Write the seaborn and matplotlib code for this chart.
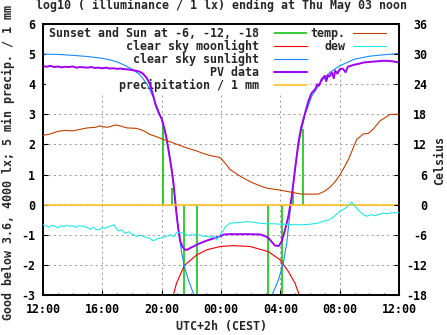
import matplotlib
matplotlib.use("Agg")
import matplotlib.pyplot as plt
import seaborn as sns

# ---------------- data (hours after 12:00 noon of the previous day) ----------------
title = "log10 ( illuminance / 1 lx) ending at Thu May 03 noon"
xlabel = "UTC+2h (CEST)"
ylabel_left = "Good below 3.6, 4000 lx; 5 min precip. / 1 mm"
ylabel_right = "Celsius"
xtick_pos = [0, 4, 8, 12, 16, 20, 24]
xtick_labels = ["12:00", "16:00", "20:00", "00:00", "04:00", "08:00", "12:00"]
ytick_left = [-3, -2, -1, 0, 1, 2, 3, 4, 5, 6]
ytick_right = [-18, -12, -6, 0, 6, 12, 18, 24, 30, 36]

# sunset and sun at -6, -12, -18 markers
sun_hours = [8.10, 8.72, 9.53, 10.40, 15.19, 16.14, 16.88, 17.51]
sun_top = [2.75, 0.55, 0.0, 0.0, 0.0, 0.0, 0.45, 2.50]
sun_bottom = [0.0, 0.0, -3.0, -3.0, -3.0, -3.0, 0.0, 0.0]

# clear sky moonlight
moon_h = [8.62, 8.79, 9.00, 9.25, 9.53, 10.36, 11.04, 11.94, 12.84, 13.97, 15.19, 15.98, 16.54, 16.99, 17.28, 17.42]
moon_v = [-3.40, -3.00, -2.61, -2.33, -2.02, -1.67, -1.50, -1.39, -1.36, -1.39, -1.56, -1.83, -2.22, -2.61, -3.00, -3.40]

# clear sky sunlight
sun_h = [0, 1, 2, 3, 4, 4.5, 5, 5.5, 6, 6.5, 7.0, 7.44, 7.8, 8.0, 8.34, 8.5, 8.68, 8.9, 9.12, 9.35,
         9.53, 9.8, 10.13, 10.5, 15.1, 15.42, 15.87, 16.2, 16.43, 16.65, 16.88, 17.1, 17.33, 17.67,
         18.12, 18.79, 19.35, 20.0, 21.0, 22.0, 23.0, 24.0]
sun_v = [5.00, 4.99, 4.96, 4.92, 4.86, 4.81, 4.74, 4.63, 4.50, 4.33, 4.02, 3.56, 3.10, 2.83, 2.17, 1.70,
         1.11, 0.17, -0.83, -1.60, -2.05, -2.50, -2.94, -3.50, -3.50, -3.03, -2.50, -1.94, -1.28, -0.28,
         0.72, 1.61, 2.28, 3.00, 3.61, 4.11, 4.40, 4.61, 4.83, 4.93, 4.98, 5.02]

# PV data
pv_h = [0.0, 0.25, 0.5, 0.75, 1.0, 1.25, 1.5, 1.75, 2.0, 2.25, 2.5, 2.75, 3.0, 3.25, 3.5, 3.75, 4.0,
        4.25, 4.5, 4.75, 5.0, 5.25, 5.5, 5.75, 6.0, 6.25, 6.5, 6.75, 7.0, 7.2, 7.44, 7.6, 7.8, 8.0,
        8.2, 8.34, 8.5, 8.68, 8.8, 8.9, 9.0, 9.12, 9.25, 9.4, 9.6, 9.7, 10.0, 10.5, 11.0, 11.5,
        11.94, 12.2, 12.6, 13.5, 14.0, 14.65, 15.0, 15.2, 15.45, 15.64, 15.9, 16.09, 16.32, 16.54,
        16.77, 16.99, 17.22, 17.4, 17.55, 17.89, 18.1, 18.34, 18.5, 18.6, 18.79, 19.0, 19.1, 19.2,
        19.3, 19.47, 19.6, 19.7, 19.85, 20.0, 20.2, 20.4, 20.55, 20.8, 21.0, 21.3, 21.6, 22.0, 22.5,
        23.0, 23.4, 23.7, 24.0]
pv_v = [4.60, 4.58, 4.61, 4.57, 4.59, 4.56, 4.58, 4.57, 4.59, 4.55, 4.57, 4.56, 4.55, 4.57, 4.54,
        4.55, 4.53, 4.55, 4.52, 4.53, 4.51, 4.52, 4.50, 4.49, 4.47, 4.45, 4.42, 4.35, 4.20, 4.02,
        3.60, 3.30, 3.05, 2.85, 2.50, 2.17, 1.70, 1.15, 0.70, 0.20, -0.30, -0.80, -1.20, -1.40,
        -1.50, -1.50, -1.42, -1.30, -1.20, -1.12, -1.05, -0.99, -0.98, -0.98, -0.98, -0.99, -1.05,
        -1.11, -1.25, -1.36, -1.37, -1.22, -0.83, -0.39, 0.28, 1.17, 2.06, 2.55, 2.83, 3.44, 3.70,
        3.83, 4.00, 3.95, 4.17, 4.28, 4.10, 4.30, 4.25, 4.39, 4.20, 4.45, 4.35, 4.50, 4.52, 4.40,
        4.58, 4.62, 4.65, 4.68, 4.72, 4.74, 4.76, 4.78, 4.77, 4.75, 4.72]

# precipitation / 1 mm
precip_h = [0, 24]
precip_v = [0.0, 0.0]

# temperature (Celsius)
temp_h = [0, 0.5, 1.0, 1.5, 2.0, 2.5, 3.0, 3.5, 3.84, 4.3, 4.6, 4.86, 5.2, 5.64, 6.32, 6.8, 7.2, 7.7,
          8.1, 8.6, 9.24, 9.8, 10.36, 10.8, 11.26, 11.94, 12.3, 12.61, 13.28, 13.7, 14.18, 14.6, 15.08,
          15.5, 15.98, 16.7, 17.44, 18.56, 19.0, 19.35, 19.7, 20.03, 20.3, 20.59, 20.9, 21.15, 21.6,
          21.94, 22.3, 22.72, 23.1, 23.4, 24.0]
temp_v = [13.8, 14.1, 14.6, 14.8, 14.7, 15.0, 15.3, 15.4, 15.7, 15.4, 15.6, 15.9, 15.7, 15.3, 15.2,
          14.7, 14.0, 13.5, 13.0, 12.5, 11.8, 11.2, 10.7, 10.2, 9.8, 9.4, 8.2, 7.0, 5.7, 5.0, 4.3, 3.8,
          3.3, 3.1, 2.9, 2.5, 2.1, 2.1, 2.7, 3.5, 4.6, 6.0, 7.4, 9.0, 11.2, 13.0, 14.1, 14.2, 15.2,
          16.7, 17.4, 18.0, 18.0]

# dew point (Celsius)
dew_h = [0, 0.2, 0.4, 0.6, 0.8, 1.0, 1.2, 1.4, 1.6, 1.8, 2.0, 2.2, 2.4, 2.7, 3.0, 3.2, 3.4, 3.6, 3.84,
         4.0, 4.2, 4.4, 4.6, 4.8, 4.9, 5.1, 5.3, 5.53, 5.8, 6.0, 6.32, 6.6, 6.9, 7.2, 7.44, 7.7, 8.0,
         8.34, 8.6, 8.8, 9.0, 9.24, 9.5, 9.8, 10.13, 10.5, 10.8, 11.04, 11.3, 11.5, 11.71, 11.94,
         12.1, 12.3, 12.61, 13.0, 13.4, 13.73, 14.2, 14.6, 15.08, 15.5, 16.0, 16.4, 16.88, 17.4, 18.0,
         18.5, 18.9, 19.3, 19.6, 20.03, 20.4, 20.81, 21.0, 21.3, 21.6, 21.83, 22.1, 22.4, 22.7, 22.95,
         23.2, 23.5, 24.0]
dew_v = [-4.0, -4.2, -4.5, -4.1, -4.3, -4.6, -4.2, -4.4, -4.1, -4.3, -4.2, -4.5, -4.2, -4.3, -4.6,
         -4.9, -4.5, -5.0, -4.9, -4.6, -4.7, -4.4, -4.2, -4.0, -4.6, -5.2, -5.0, -5.7, -5.4, -5.9,
         -6.3, -6.1, -6.5, -6.7, -7.2, -6.8, -6.6, -6.3, -6.0, -6.4, -5.6, -5.5, -5.8, -6.1, -6.0,
         -6.0, -6.3, -6.3, -6.5, -6.2, -7.0, -6.0, -5.4, -4.4, -3.7, -3.6, -3.5, -3.4, -3.5, -3.7,
         -3.8, -3.8, -3.9, -3.9, -4.0, -4.0, -3.9, -3.7, -3.3, -3.0, -2.4, -1.3, -0.7, 0.5, -0.2,
         -1.2, -2.0, -2.3, -2.0, -2.2, -1.9, -1.7, -1.8, -1.6, -1.6]

legend_labels = ["Sunset and Sun at -6, -12, -18", "clear sky moonlight", "clear sky sunlight",
                 "PV data", "precipitation / 1 mm"]
legend2_labels = ["temp.", "dew"]

# ---------------- styling ----------------
sns.set_theme(style="white")
FS = 8.35
plt.rcParams["font.family"] = ["DejaVu Sans Mono", "DejaVu Sans"]
plt.rcParams["font.weight"] = "bold"
plt.rcParams["font.size"] = FS
plt.rcParams["axes.unicode_minus"] = False

C_GREEN = "#00c000"
C_RED = "#ee0000"
C_BLUE = "#1a88ff"
C_PURPLE = "#a000f0"
C_ORANGE = "#ffc020"
C_BROWN = "#c04000"
C_CYAN = "#20e8e8"
C_GRID = "#a0a0a0"

W, H = 447, 335
fig = plt.figure(figsize=(W / 100, H / 100), dpi=100)
fig.patch.set_facecolor("white")
ax = fig.add_axes([43 / W, 1 - 295 / H, 356 / W, 271 / H])
ax.set_facecolor("white")

# green sun markers
ax.vlines(sun_hours, sun_bottom, sun_top, colors=C_GREEN, linewidth=1.1, zorder=2,
          label=legend_labels[0])
sns.lineplot(x=moon_h, y=moon_v, ax=ax, color=C_RED, linewidth=0.8, label=legend_labels[1],
             legend=False, errorbar=None, sort=False)
sns.lineplot(x=sun_h, y=sun_v, ax=ax, color=C_BLUE, linewidth=0.8, label=legend_labels[2],
             legend=False, errorbar=None, sort=False)
sns.lineplot(x=pv_h, y=pv_v, ax=ax, color=C_PURPLE, linewidth=1.4, label=legend_labels[3],
             legend=False, errorbar=None, sort=False)
sns.lineplot(x=precip_h, y=precip_v, ax=ax, color=C_ORANGE, linewidth=1.2, label=legend_labels[4],
             legend=False, errorbar=None, sort=False)

ax.set_xlim(0, 24)
ax.set_ylim(-3, 6)
ax.set_xticks(xtick_pos)
ax.set_xticklabels(xtick_labels)
ax.set_xticks(list(range(0, 25)), minor=True)
ax.set_yticks(ytick_left)
ax.set_yticklabels([str(v) for v in ytick_left])
ax.set_xlabel("")
ax.set_ylabel("")
ax.set_axisbelow(True)
ax.grid(True, which="major", color=C_GRID, linestyle=(0, (2, 3)), linewidth=0.75)
ax.grid(False, which="minor")
ax.tick_params(axis="x", which="major", direction="in", length=3.5, width=0.8, top=True,
               bottom=True, pad=5.8, labelsize=FS, colors="black")
ax.tick_params(axis="x", which="minor", direction="in", length=1.8, width=0.8, top=True, bottom=True)
ax.tick_params(axis="y", which="major", direction="in", length=3.5, width=0.8, left=True,
               right=False, pad=5.8, labelsize=FS, colors="black")
for sp in ax.spines.values():
    sp.set_color("black")
    sp.set_linewidth(1.4)

# right axis: temperature and dew
ax2 = ax.twinx()
sns.lineplot(x=temp_h, y=temp_v, ax=ax2, color=C_BROWN, linewidth=0.8, label=legend2_labels[0],
             legend=False, errorbar=None, sort=False)
sns.lineplot(x=dew_h, y=dew_v, ax=ax2, color=C_CYAN, linewidth=0.8, label=legend2_labels[1],
             legend=False, errorbar=None, sort=False)
ax2.set_ylim(-18, 36)
ax2.set_yticks(ytick_right)
ax2.set_yticklabels([str(v) for v in ytick_right])
ax2.set_ylabel("")
ax2.tick_params(axis="y", direction="in", length=3.5, width=0.8, right=True, left=False,
                pad=20.2, labelsize=FS, colors="black")
for lab in ax2.get_yticklabels():
    lab.set_horizontalalignment("right")
ax2.grid(False)
for sp in ax2.spines.values():
    sp.set_visible(False)

# legends
font = dict(family="DejaVu Sans Mono", weight="bold", size=FS)
h1, l1 = ax.get_legend_handles_labels()
order = [l1.index(lbl) for lbl in legend_labels]
leg1 = ax.legend([h1[i] for i in order], [l1[i] for i in order], loc="upper left",
                 bbox_to_anchor=(46.1 / W, 1 - 24 / H), bbox_transform=fig.transFigure,
                 borderaxespad=0, borderpad=0.25, markerfirst=False, handlelength=2.85,
                 handletextpad=1.3, labelspacing=0.0, frameon=True, fancybox=False,
                 edgecolor="none", facecolor="white", framealpha=1, prop=font)
leg1.set_zorder(1.5)
ax.add_artist(leg1)
h2, l2 = ax2.get_legend_handles_labels()
leg2 = ax.legend(h2, l2, loc="upper left",
                 bbox_to_anchor=(307.8 / W, 1 - 24 / H), bbox_transform=fig.transFigure,
                 borderaxespad=0, borderpad=0.25, markerfirst=False, handlelength=2.85,
                 handletextpad=0.6, labelspacing=0.0, frameon=True, fancybox=False,
                 edgecolor="none", facecolor="white", framealpha=1, prop=font)
leg2.set_zorder(1.5)

# texts
fig.text(221 / W, 1 - 5.5 / H, title, ha="center", va="center", fontsize=FS, fontweight="bold")
fig.text(221 / W, 1 - 326.5 / H, xlabel, ha="center", va="center", fontsize=FS, fontweight="bold")
fig.text(8 / W, 1 - 163 / H, ylabel_left, ha="center", va="center", rotation=90, fontsize=FS,
         fontweight="bold")
fig.text(440 / W, 1 - 160 / H, ylabel_right, ha="center", va="center", rotation=90, fontsize=FS,
         fontweight="bold")

fig.savefig("out.png", dpi=100)
